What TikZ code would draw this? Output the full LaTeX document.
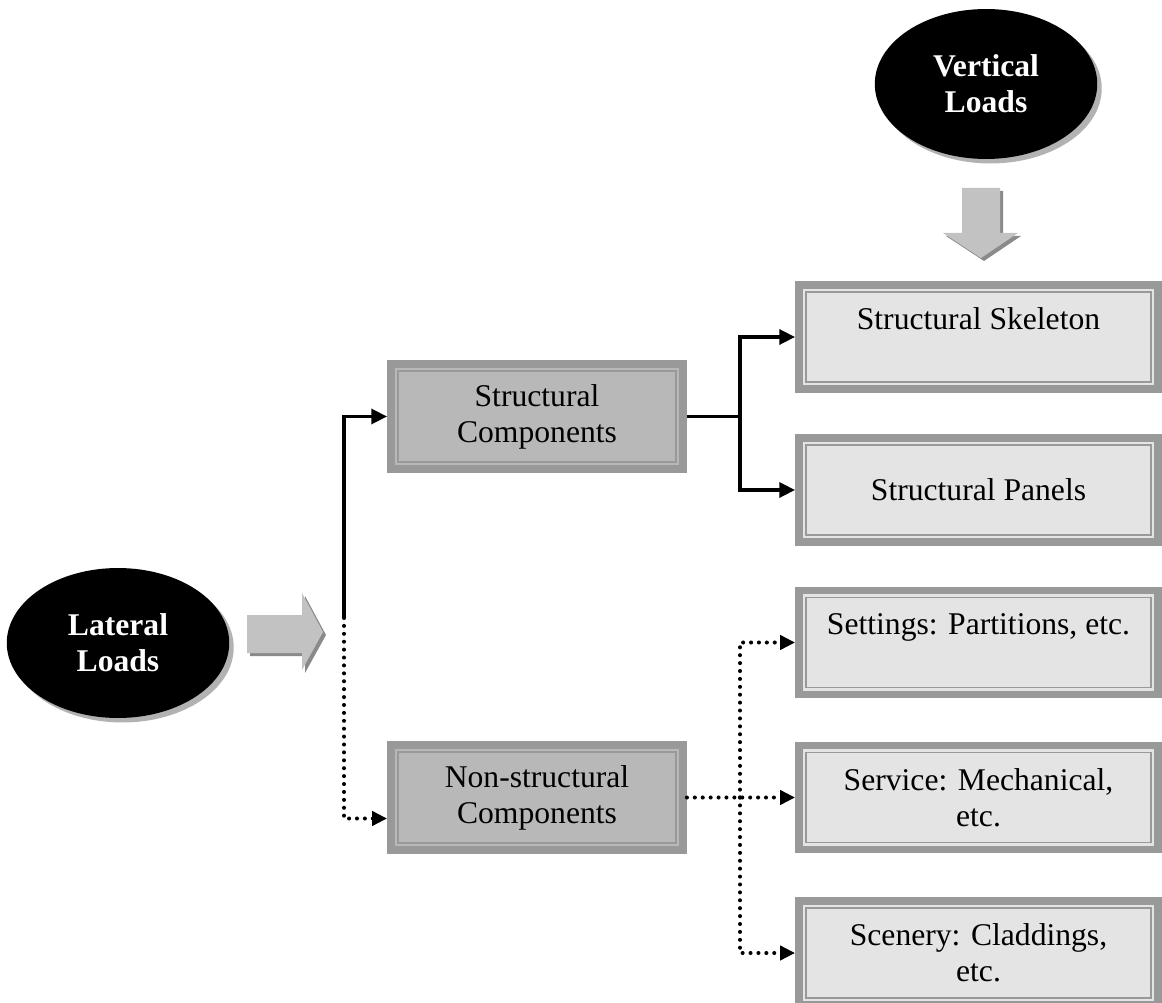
\documentclass[tikz,border=0pt]{standalone}
\usepackage{fontspec}
\setmainfont{Liberation Serif}
\usetikzlibrary{shapes.geometric,arrows.meta,shadows}
\definecolor{rimgray}{HTML}{999999}
\definecolor{darkfill}{HTML}{B8B8B8}
\definecolor{lightfill}{HTML}{E4E4E4}
\definecolor{blockgray}{HTML}{C2C2C2}
\definecolor{shadegray}{HTML}{8A8A8A}
\begin{document}
\begin{tikzpicture}[x=0.02cm,y=-0.02cm,
    load/.style={ellipse,fill=black,text=white,align=center,
        font=\fontsize{18}{20.5}\selectfont\bfseries,
        minimum width=4.45cm,minimum height=3cm,
        drop shadow={shadow xshift=0.09cm,shadow yshift=-0.09cm,fill=black!30,opacity=1}},
    box/.style={rectangle,draw=rimgray,line width=4.5pt,align=center,
        font=\fontsize{18}{20.5}\selectfont,
        path picture={\draw[rimgray,line width=1.1pt]
            ([shift={(0.14cm,-0.14cm)}]path picture bounding box.north west) rectangle
            ([shift={(-0.14cm,0.14cm)}]path picture bounding box.south east);}},
    compbox/.style={box,fill=darkfill,minimum width=5.84cm,minimum height=2.1cm},
    partbox/.style={box,fill=lightfill,minimum width=7.18cm,minimum height=2.08cm},
    solidlink/.style={line width=2pt,-{Triangle[length=9pt,width=8.5pt]}},
    dotline/.style={line width=2.3pt,dash pattern=on 0pt off 4.5pt,line cap=round},
    dotlink/.style={dotline,-{Triangle[length=8.5pt,width=8pt]}},
    blockarrow/.style={fill=blockgray,
        drop shadow={shadow xshift=0.06cm,shadow yshift=-0.06cm,fill=shadegray,opacity=1}}]

    \useasboundingbox (0,0) rectangle (1162,1003);

    \node[load] (lat) at (118,643) {Lateral\\Loads};
    \node[load] (vert) at (986,84) {Vertical\\Loads};

    \fill[blockarrow] (247,615) -- (302,615) -- (302,593) -- (323,632)
        -- (302,670) -- (302,653) -- (247,653) -- cycle;
    \fill[blockarrow] (962,188) -- (1000,188) -- (1000,233) -- (1018,233)
        -- (981,258) -- (943,233) -- (962,233) -- cycle;

    \node[compbox] (sc) at (537,416.5) {Structural\\Components};
    \node[compbox] (nc) at (537,797.5) {Non-structural\\Components};

    \node[partbox] (skel) at (978.5,337) {Structural Skeleton\\ \mbox{}};
    \node[partbox] (panel) at (978.5,490) {Structural Panels};
    \node[partbox] (sett) at (978.5,642.5) {Settings: Partitions, etc.\\ \mbox{}};
    \node[partbox] (serv) at (978.5,797.5) {Service: Mechanical,\\etc.};
    \node[partbox] (scen) at (978.5,953) {Scenery: Claddings,\\etc.};

    \coordinate (split) at (344,618);
    \coordinate (sbus) at (740,416.5);
    \coordinate (nbus) at (740,797.5);

    \draw[solidlink] (split) |- (sc.west);
    \draw[dotlink] (split) |- ([yshift=-0.42cm]nc.west);

    \draw[line width=2pt] (sc.east) -- (sbus);
    \draw[solidlink] (sbus) |- (skel.west);
    \draw[solidlink] (sbus) |- (panel.west);

    \draw[dotlink] (nc.east) -- (serv.west);
    \draw[dotlink] (nbus) |- (sett.west);
    \draw[dotlink] (nbus) |- (scen.west);

\end{tikzpicture}
\end{document}
